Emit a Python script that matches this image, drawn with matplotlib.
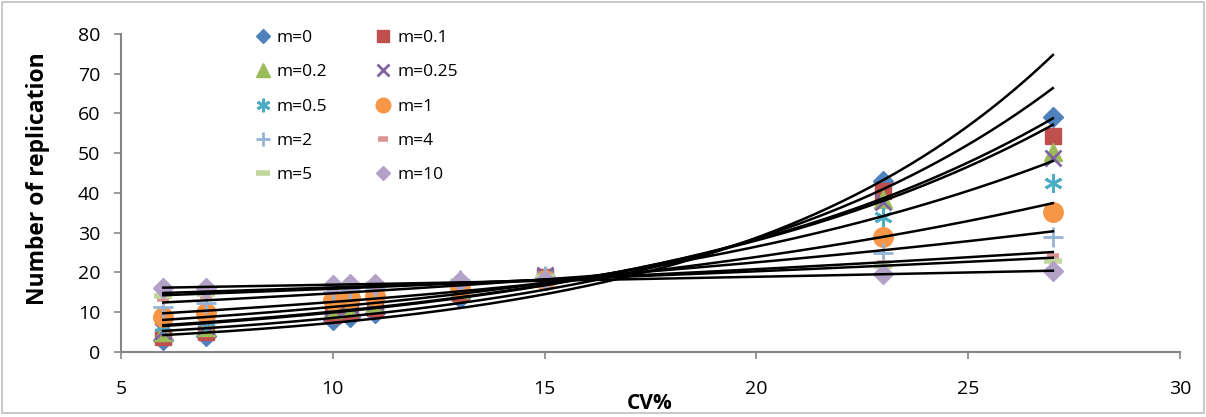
"""Number of replication against CV% for several m, with exponential trendlines."""

import matplotlib.pyplot as plt
import numpy as np
from matplotlib.patches import Rectangle

cv = [6, 7, 10, 10.4, 11, 13, 15, 23, 27]

m_labels = ["m=0", "m=0.1", "m=0.2", "m=0.25", "m=0.5",
            "m=1", "m=2", "m=4", "m=5", "m=10"]

n_m0 = [2.9, 4.0, 8.1, 8.8, 9.8, 13.7, 18.2, 43.0, 59.0]
n_m01 = [3.8, 5.0, 9.4, 10.1, 11.1, 14.8, 18.9, 40.6, 54.3]
n_m02 = [5.0, 6.3, 10.8, 11.4, 12.3, 15.8, 19.2, 38.4, 50.2]
n_m025 = [5.2, 6.5, 11.0, 11.6, 12.5, 16.0, 19.3, 37.8, 48.9]
n_m05 = [6.5, 7.8, 12.2, 12.8, 13.6, 16.4, 19.0, 34.0, 42.5]
n_m1 = [8.7, 9.9, 13.0, 13.5, 14.2, 16.0, 18.0, 29.0, 35.3]
n_m2 = [11.2, 12.2, 15.2, 15.6, 16.2, 18.0, 19.2, 25.0, 28.9]
n_m4 = [13.4, 14.0, 16.2, 16.5, 16.8, 18.0, 19.0, 22.5, 24.1]
n_m5 = [14.2, 14.6, 16.4, 16.7, 17.0, 17.9, 18.8, 21.7, 22.9]
n_m10 = [16.0, 16.2, 16.9, 17.1, 17.2, 17.8, 18.0, 19.5, 20.3]

series = [n_m0, n_m01, n_m02, n_m025, n_m05, n_m1, n_m2, n_m4, n_m5, n_m10]

colors = ["#4F81BD", "#C0504D", "#9BBB59", "#8064A2", "#4BACC6",
          "#F79646", "#95B3D7", "#D99694", "#C3D69B", "#B3A2C7"]
markers = ["D", "s", "^", "x", (6, 2, 0), "o", "+", "_", "_", "D"]
sizes = [10, 11, 13, 12, 13, 14, 14, 9, 13, 10]
mew = [1, 1, 1, 2, 2, 1, 2, 4, 4, 1]

plt.rcParams["font.family"] = ["Open Sans", "DejaVu Sans"]

fig = plt.figure(figsize=(12.06, 4.17), dpi=100)
ax = fig.add_axes([0.1003, 0.1559, 0.8781, 0.7626])

handles = []
for vals, lab, c, mk, ms, mw in zip(series, m_labels, colors, markers, sizes, mew):
    (h,) = ax.plot(cv, vals, linestyle="none", marker=mk, markersize=ms,
                   color=c, markeredgecolor=c, markeredgewidth=mw, label=lab)
    handles.append(h)

# exponential trendlines, like Excel's
xs = np.linspace(min(cv), max(cv), 200)
for vals in series:
    b, ln_a = np.polyfit(cv, np.log(vals), 1)
    ax.plot(xs, np.exp(ln_a) * np.exp(b * xs), color="black", lw=1.8, zorder=5)

ax.set_xlim(5, 30)
ax.set_ylim(0, 80)
ax.set_xticks([5, 10, 15, 20, 25, 30])
ax.set_yticks(range(0, 81, 10))
for s in ["top", "right"]:
    ax.spines[s].set_visible(False)
for s in ["left", "bottom"]:
    ax.spines[s].set_color("#868686")
    ax.spines[s].set_linewidth(1.5)
ax.tick_params(axis="both", colors="#868686", labelcolor="black",
               labelsize=14, length=5, width=1.2)
ax.tick_params(axis="x", pad=15)
ax.tick_params(axis="y", pad=10)

ax.set_xlabel("CV%", fontsize=15, fontweight="bold")
ax.set_ylabel("Number of replication", fontsize=16.5, fontweight="bold")
ax.xaxis.set_label_coords(0.4995, -0.13)
ax.yaxis.set_label_coords(-0.067, 0.544)

order = [0, 2, 4, 6, 8, 1, 3, 5, 7, 9]
ax.legend([handles[i] for i in order], [m_labels[i] for i in order],
          ncol=2, frameon=False, fontsize=12.5, markerscale=0.75,
          loc="upper left", bbox_to_anchor=(0.198, 0.966),
          bbox_transform=fig.transFigure, labelspacing=1.05,
          handlelength=1.0, handletextpad=0.3, columnspacing=2.7)

fig.patches.append(Rectangle((0.002, 0.01), 0.996, 0.985, transform=fig.transFigure,
                             fill=False, edgecolor="#BFBFBF", lw=1.2))

fig.savefig("out.png", dpi=100)
